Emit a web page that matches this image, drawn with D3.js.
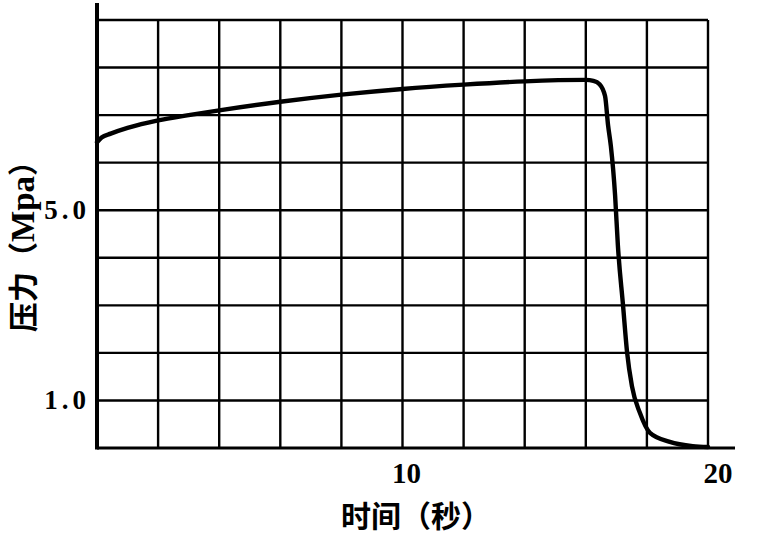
<!DOCTYPE html>
<html><head><meta charset="utf-8">
<script src="https://cdn.jsdelivr.net/npm/d3@7"></script>
<style>body{margin:0;background:#fff}svg{display:block}</style>
</head><body>
<script>
const time = [0, 0.15, 0.45, 1, 2, 3, 4, 6, 8, 10, 12, 14, 16, 16.25, 16.45, 16.63, 16.73, 16.82, 16.96, 17.05, 17.22, 17.35, 17.51, 17.77, 18.1, 18.75, 19.5, 20];
const pressure = [6.43, 6.53, 6.61, 6.73, 6.89, 7.0, 7.10, 7.28, 7.43, 7.55, 7.64, 7.71, 7.74, 7.72, 7.65, 7.4, 6.78, 6.35, 5.3, 4.26, 2.99, 2.02, 1.30, 0.74, 0.32, 0.13, 0.04, 0.02];
const xGrid = [0, 2, 4, 6, 8, 10, 12, 14, 16, 18, 20];
const yGrid = [0, 1, 2, 3, 4, 5, 6, 7, 8, 9];
const xTickLabels = [10, 20];
const yTickLabels = [1.0, 5.0];
const xTitle = "时间（秒）";
const yTitleCJK = "压力";
const yTitleUnit = "Mpa";

const W = 764, H = 546;
const svg = d3.select("body").append("svg").attr("width", W).attr("height", H);
const x = d3.scaleLinear().domain([0, 20]).range([97, 708]);
const y = d3.scaleLinear().domain([0, 9]).range([448, 20]);

// grid
svg.append("g").selectAll("line").data(xGrid.slice(1)).join("line")
  .attr("x1", d => x(d)).attr("x2", d => x(d))
  .attr("y1", y(0)).attr("y2", y(9))
  .attr("stroke", "#000").attr("stroke-width", 2.4);
svg.append("g").selectAll("line").data(yGrid.slice(1)).join("line")
  .attr("x1", x(0)).attr("x2", x(20))
  .attr("y1", d => y(d)).attr("y2", d => y(d))
  .attr("stroke", "#000").attr("stroke-width", 2.4);

// bottom axis (extends beyond 20)
svg.append("line").attr("x1", x(0)).attr("x2", 735).attr("y1", y(0)).attr("y2", y(0))
  .attr("stroke", "#000").attr("stroke-width", 3);
// left axis (extends above top)
svg.append("line").attr("x1", x(0)).attr("x2", x(0)).attr("y1", 3).attr("y2", y(0) + 1.5)
  .attr("stroke", "#000").attr("stroke-width", 4);

// curve
const line = d3.line().x((d, i) => x(time[i])).y(d => y(d)).curve(d3.curveMonotoneX);
svg.append("path").datum(pressure).attr("d", line)
  .attr("fill", "none").attr("stroke", "#000").attr("stroke-width", 4.4)
  .attr("stroke-linejoin", "round").attr("stroke-linecap", "round");

// tick labels
const numFont = "'Liberation Serif', 'DejaVu Serif', serif";
svg.append("g").selectAll("text").data(yTickLabels).join("text")
  .attr("x", 90).attr("y", d => y(d) + 9)
  .attr("text-anchor", "end").attr("font-family", numFont).attr("font-weight", "bold")
  .attr("letter-spacing", 4)
  .attr("font-size", 27).text(d => d.toFixed(1));
svg.append("g").selectAll("text").data(xTickLabels).join("text")
  .attr("x", (d, i) => x(d) + (d === 20 ? 10 : 4)).attr("y", 483)
  .attr("text-anchor", "middle").attr("font-family", numFont).attr("font-weight", "bold")
  .attr("font-size", 29).text(d => d);

// titles
const cjk = "'Noto Sans CJK SC', sans-serif";
svg.append("text").attr("x", 341).attr("y", 527)
  .attr("font-family", cjk).attr("font-weight", "bold").attr("font-size", 30).text(xTitle);
const yt = svg.append("text").attr("transform", "translate(34,332) rotate(-90)")
  .attr("font-family", cjk).attr("font-weight", "bold").attr("font-size", 30);
yt.append("tspan").text(yTitleCJK + "（");
yt.append("tspan").attr("font-family", numFont).attr("font-size", 33).text(yTitleUnit);
yt.append("tspan").text("）");
</script>
</body></html>
